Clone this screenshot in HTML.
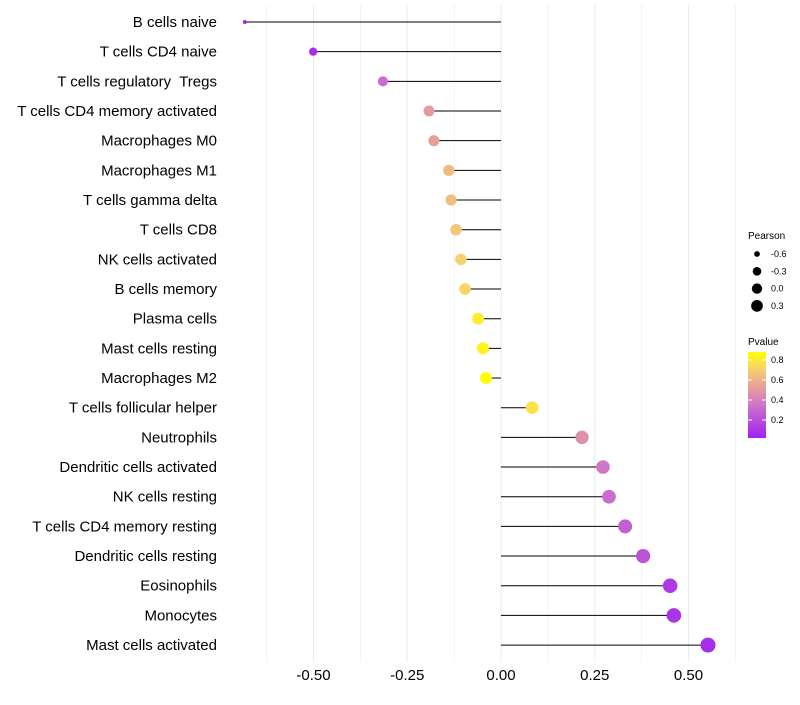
<!DOCTYPE html>
<html><head><meta charset="utf-8"><style>
body{margin:0;background:#fff;font-family:"Liberation Sans",sans-serif}
</style></head><body>
<svg id="chart" width="800" height="700" xmlns="http://www.w3.org/2000/svg" font-family="Liberation Sans, sans-serif">
<defs><linearGradient id="pg" x1="0" y1="1" x2="0" y2="0">
<stop offset="0" stop-color="#a020f0"/><stop offset="0.4" stop-color="#cf78c8"/><stop offset="0.6" stop-color="#e8a095"/><stop offset="0.8" stop-color="#f7d070"/><stop offset="1" stop-color="#ffff00"/></linearGradient></defs>
<g id="grid"></g><g id="marks"></g><g id="labels"></g>
<g>
<text x="748" y="239" font-size="10" fill="#000">Pearson</text>
<text x="748" y="345" font-size="10" fill="#000">Pvalue</text>
<rect x="748" y="352" width="18" height="86" fill="url(#pg)"/>
<g id="leg"></g>
</g>
</svg>
<script>
const categories=["B cells naive","T cells CD4 naive","T cells regulatory  Tregs","T cells CD4 memory activated","Macrophages M0","Macrophages M1","T cells gamma delta","T cells CD8","NK cells activated","B cells memory","Plasma cells","Mast cells resting","Macrophages M2","T cells follicular helper","Neutrophils","Dendritic cells activated","NK cells resting","T cells CD4 memory resting","Dendritic cells resting","Eosinophils","Monocytes","Mast cells activated"];
const pearson=[-0.683,-0.501,-0.315,-0.192,-0.179,-0.139,-0.133,-0.12,-0.107,-0.096,-0.061,-0.048,-0.04,0.083,0.216,0.272,0.288,0.331,0.379,0.451,0.461,0.552];
const pvalues=[0.02,0.05,0.3,0.5,0.52,0.62,0.63,0.66,0.7,0.72,0.8,0.83,0.86,0.76,0.45,0.35,0.3,0.25,0.2,0.1,0.08,0.05];
const xTicks=[-0.5,-0.25,0,0.25,0.5];
const xTickLabels=["-0.50","-0.25","0.00","0.25","0.50"];
const sizeLegend=[-0.6,-0.3,0.0,0.3];
const pTicks=[0.2,0.4,0.6,0.8];
const NS="http://www.w3.org/2000/svg";
const X=v=>501+v*375;
const Y=i=>22+i*29.67;
const R=v=>2+5.5*Math.sqrt(Math.max(0,v+0.683)/1.235);
const stops=[[0,[160,32,240]],[0.4,[207,120,200]],[0.6,[232,160,149]],[0.8,[247,208,112]],[1,[255,255,0]]];
function col(p){let t=Math.min(1,Math.max(0,p/0.87));for(let k=1;k<stops.length;k++){if(t<=stops[k][0]){const a=stops[k-1],b=stops[k];const f=(t-a[0])/(b[0]-a[0]);return "rgb("+a[1].map((c,j)=>Math.round(c+(b[1][j]-c)*f)).join(",")+")";}}return "rgb(255,255,0)";}
function mk(tag,attrs,parent){const e=document.createElementNS(NS,tag);for(const k in attrs)e.setAttribute(k,attrs[k]);parent.appendChild(e);return e;}
const grid=document.getElementById("grid"),marks=document.getElementById("marks"),labels=document.getElementById("labels"),leg=document.getElementById("leg");
for(let v=-0.625;v<=0.625;v+=0.125){const g=mk("line",{x1:X(v),x2:X(v),y1:5,y2:662,stroke:"#ebebeb","stroke-width":Math.abs(v*4-Math.round(v*4))<1e-6?1:0.6},grid);

}
xTicks.forEach((v,i)=>{const t=mk("text",{x:X(v),y:680,"font-size":15,"text-anchor":"middle",fill:"#000"},labels);t.textContent=xTickLabels[i];

});
categories.forEach((c,i)=>{
const t=mk("text",{x:217,y:Y(i)+5,"font-size":15,"text-anchor":"end",fill:"#000",style:"white-space:pre"},labels);t.textContent=c;


const l=mk("line",{x1:X(0),x2:X(pearson[i]),y1:Y(i),y2:Y(i),stroke:"#000","stroke-width":1},marks);


const d=mk("circle",{cx:X(pearson[i]),cy:Y(i),r:R(pearson[i]),fill:col(pvalues[i])},marks);


});
sizeLegend.forEach((v,i)=>{const y=254+i*17.3;
const c=mk("circle",{cx:757,cy:y,r:R(v)*0.85,fill:"#000"},leg);


const t=mk("text",{x:771,y:y+3,"font-size":9,fill:"#000"},leg);t.textContent=v.toFixed(1);

});
pTicks.forEach(p=>{const y=440-p*100;
mk("line",{x1:748,x2:752,y1:y,y2:y,stroke:"#fff"},leg);mk("line",{x1:762,x2:766,y1:y,y2:y,stroke:"#fff"},leg);
const t=mk("text",{x:771,y:y+3,"font-size":9,fill:"#000"},leg);t.textContent=p.toFixed(1);

});
</script>
</body></html>
